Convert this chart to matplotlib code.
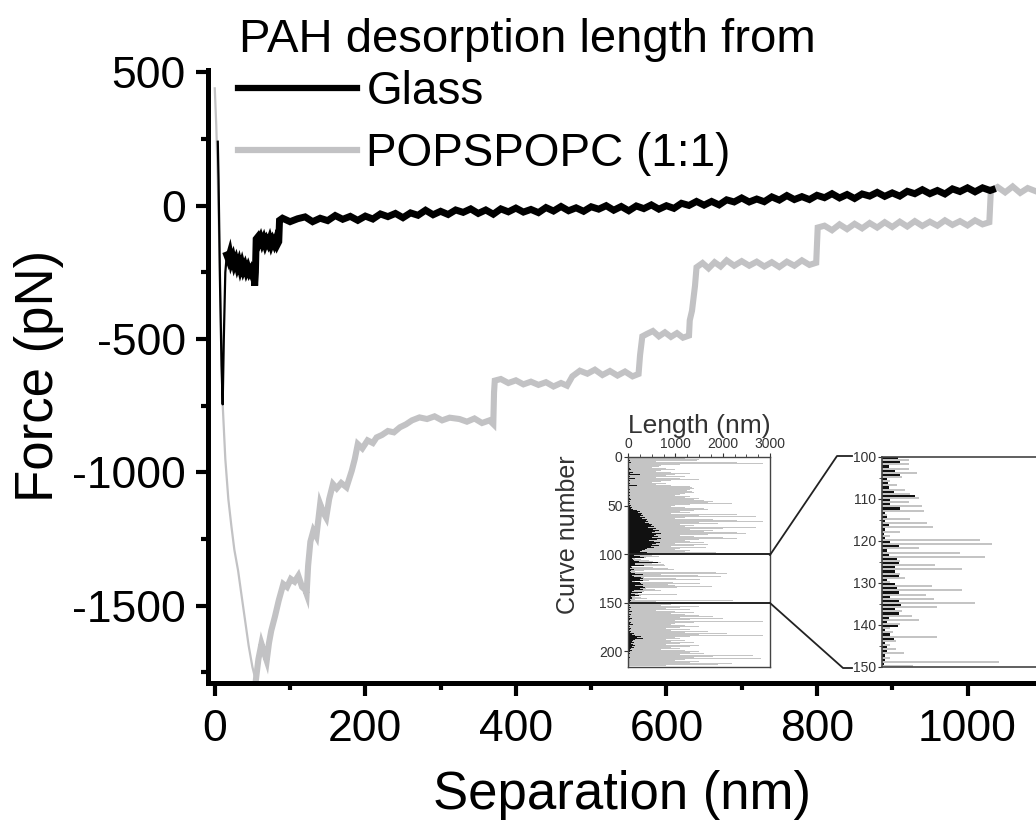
import matplotlib
matplotlib.use('Agg')
import matplotlib.pyplot as plt
from matplotlib.lines import Line2D
from matplotlib.ticker import MultipleLocator

plt.rcParams['font.family'] = ['Liberation Sans', 'DejaVu Sans']
plt.rcParams['axes.unicode_minus'] = False

# ---------------- main force curves ----------------
glass_sep = [4, 5, 7, 9, 10.5, 12, 14, 16, 18, 20, 22, 24, 26, 28, 30, 32, 34, 36, 38, 40, 42, 44, 46,
             48, 50, 52, 53, 54, 55, 57, 59, 61, 63, 65, 67, 69, 71, 73, 75, 77, 79, 81, 83, 85, 86,
             90, 100, 110, 120, 130, 140, 150, 160, 170, 180, 190, 200, 210, 220, 230, 240, 250, 260,
             270, 280, 290, 300, 310, 320, 330, 340, 350, 360, 370, 380, 390, 400, 410, 420, 430, 440,
             450, 460, 470, 480, 490, 500, 510, 520, 530, 540, 550, 560, 570, 580, 590, 600, 610, 620,
             630, 640, 650, 660, 670, 680, 690, 700, 710, 720, 730, 740, 750, 760, 770, 780, 790, 800,
             810, 820, 830, 840, 850, 860, 870, 880, 890, 900, 910, 920, 930, 940, 950, 960, 970, 980,
             990, 1000, 1010, 1020, 1030, 1033]
glass_force = [240, 100, -300, -600, -745, -500, -250, -185, -200, -180, -210, -195, -220, -205, -228,
               -212, -236, -218, -240, -226, -246, -232, -250, -240, -258, -245, -300, -250, -125, -118,
               -136, -122, -140, -126, -145, -130, -142, -126, -146, -131, -144, -128, -146, -135, -55,
               -47, -60, -49, -42, -60, -47, -56, -37, -51, -40, -55, -39, -50, -31, -41, -29, -45, -27,
               -36, -17, -34, -21, -33, -16, -25, -12, -29, -16, -32, -12, -23, -9, -24, -14, -26, -7,
               -20, -3, -19, -8, -21, -4, -13, 0, -17, -3, -19, -1, -11, 3, -13, 0, -10, 9,
               1, 16, 2, 16, 3, 22, 14, 29, 14, 25, 15, 33, 21, 38, 23, 34, 23, 39,
               30, 45, 29, 42, 27, 44, 36, 50, 35, 48, 36, 54, 45, 60, 45, 57, 44, 63,
               53, 67, 52, 67, 57, 60]

pops_sep = [0, 2, 4, 6, 8, 10.5, 14, 18, 22, 26, 31, 35, 40, 45, 50, 54.5, 58, 62, 66, 69, 72, 75, 80,
            85, 91, 96, 101, 106, 111, 116, 120, 122, 124, 127, 131, 135, 140, 144, 148, 152, 157, 162,
            168, 175, 182, 186, 190, 196, 203, 210, 215, 222, 230, 238, 246, 254, 262, 272, 282, 292,
            302, 312, 325, 335, 345, 355, 365, 370, 371, 372, 380, 390, 400, 410, 420, 430, 440, 450,
            460, 468, 475, 485, 495, 505, 515, 525, 535, 545, 555, 563, 565, 568, 574, 582, 590, 598,
            606, 614, 622, 630, 631, 634, 638, 640, 648, 656, 664, 672, 680, 690, 700, 710, 720, 730,
            740, 750, 760, 770, 780, 790, 799, 801, 810, 820, 830, 840, 850, 860, 870, 880, 890, 900,
            910, 920, 930, 940, 950, 960, 970, 980, 990, 1000, 1010, 1020, 1029, 1031, 1040, 1050,
            1060, 1070, 1080, 1090]
pops_force = [440, 300, 100, -150, -400, -745, -950, -1100, -1200, -1290, -1369, -1450, -1550, -1650,
              -1730, -1781, -1700, -1643, -1680, -1706, -1640, -1594, -1540, -1480, -1419, -1430, -1400,
              -1410, -1388, -1430, -1440, -1456, -1350, -1260, -1219, -1240, -1119, -1150, -1170, -1100,
              -1044, -1060, -1040, -1056, -994, -950, -894, -910, -880, -890, -869, -860, -845, -850,
              -831, -820, -805, -794, -800, -790, -805, -795, -800, -810, -798, -815, -805, -819, -700,
              -656, -650, -665, -655, -670, -660, -672, -662, -678, -665, -675, -640, -619, -630, -615,
              -635, -620, -637, -622, -640, -631, -560, -490, -481, -470, -490, -475, -492, -478, -495,
              -487, -430, -394, -300, -231, -215, -235, -212, -228, -205, -225, -208, -225, -210, -228,
              -212, -230, -210, -225, -205, -222, -214, -82, -75, -92, -70, -88, -68, -85, -65, -82,
              -62, -80, -60, -78, -58, -76, -60, -75, -55, -72, -58, -74, -55, -70, -62, 56, 70, 50,
              72, 48, 66, 55]

# ---------------- inset: desorption length per curve ----------------
curve_number = list(range(1, 216))
glass_length = [20, 30, 10, 40, 20, 60, 30, 20, 10, 30,
                20, 40, 60, 30, 20, 100, 40, 250, 30, 20,
                40, 30, 150, 20, 50, 30, 20, 40, 30, 180,
                20, 30, 10, 40, 30, 20, 50, 30, 20, 40,
                30, 20, 40, 60, 30, 50, 20, 40, 30, 60,
                40, 80, 60, 100, 150, 200, 250, 220, 300, 280,
                320, 260, 350, 300, 400, 380, 420, 350, 450, 500,
                480, 550, 420, 600, 520, 650, 580, 500, 700, 600,
                550, 640, 500, 700, 620, 450, 550, 680, 600, 500,
                720, 650, 480, 550, 400, 350, 300, 250, 400,
                297, 348, 127, 253, 348, 95, 108, 127, 222, 633,
                158, 158, 348, 63, 95, 51, 127, 63, 32, 63,
                158, 317, 95, 127, 285, 317, 253, 253, 317, 95,
                253, 285, 317, 158, 317, 367, 253, 317, 127, 95,
                297, 63, 158, 222, 63, 95, 95, 51, 63, 32, 32,
                30, 20, 50, 30, 60, 20, 40, 30, 80, 20,
                30, 60, 40, 20, 50, 30, 80, 40, 20, 30,
                60, 40, 100, 30, 50, 20, 70, 40, 30, 60,
                50, 120, 80, 150, 280, 200, 320, 150, 100, 80,
                120, 60, 100, 150, 80, 120, 60, 40, 100, 80,
                50, 30, 40, 20, 30, 20, 40, 30, 20, 30, 20, 30, 20, 10, 20]
popspopc_length = [900, 1200, 1500, 1450, 600, 2300, 2850, 1100, 700, 650,
                   500, 800, 1000, 700, 600, 900, 1300, 1000, 1400, 800,
                   1200, 600, 1100, 1500, 900, 700, 500, 800, 600, 900,
                   1300, 1350, 1400, 1300, 1250, 1350, 1400, 1200, 1100, 1000,
                   1300, 1200, 1500, 1400, 1600, 1800, 1700, 2200, 1300, 1000,
                   900, 1200, 1600, 1700, 1000, 1400, 1100, 1300, 900, 2300,
                   1500, 2700, 1200, 1000, 1800, 2300, 2850, 1500, 1900, 1100,
                   1400, 1200, 2700, 2000, 1300, 1800, 1600, 2300, 2500, 1700,
                   1100, 1400, 2000, 2300, 1500, 1200, 1300, 1600, 1000, 1700,
                   1200, 1400, 900, 1650, 1100, 1000, 1300, 1200, 1850,
                   506, 506, 506, 665, 380, 158, 285, 443, 538, 696,
                   506, 760, 791, 95, 538, 855, 968, 348, 158, 1867,
                   2089, 696, 1475, 1962, 348, 1013, 1519, 348, 443, 158,
                   950, 1519, 842, 994, 1772, 1044, 380, 570, 696, 348,
                   158, 209, 1044, 272, 158, 272, 411, 158, 2216, 589, 253,
                   1200, 900, 700, 1500, 1100, 800, 1300, 600, 1000, 1400,
                   900, 1200, 700, 1500, 1800, 1100, 2000, 1300, 1000, 2850,
                   1400, 1000, 900, 1200, 1500, 1100, 800, 1300, 900, 1700,
                   1200, 2100, 1500, 2850, 1300, 1000, 1100, 800, 1200, 900,
                   1400, 1100, 800, 1500, 1300, 900, 1100, 700, 1000, 1200,
                   1500, 1300, 1600, 1100, 2650, 1800, 1400, 2800, 1200, 1000, 1500, 1300, 2200, 1900, 800]

GRAY = '#c2c2c4'
W, H = 1036, 824

fig = plt.figure(figsize=(W / 100, H / 100), dpi=100)
ax = fig.add_axes([208 / W, 141 / H, 828 / W, 613.3 / H])
# steep approach parts are thin, noisy plateaus appear as thick bands
ax.plot(pops_sep[:16], pops_force[:16], color=GRAY, lw=1.6)
l_pops, = ax.plot(pops_sep[15:], pops_force[15:], color=GRAY, lw=4.4, label='POPSPOPC (1:1)',
                  solid_joinstyle='miter')
ax.plot(glass_sep[:8], glass_force[:8], color='black', lw=1.6)
l_glass, = ax.plot(glass_sep[7:], glass_force[7:], color='black', lw=5.0, label='Glass',
                   solid_joinstyle='miter')
ax.set_xlim(-9, 1091)
ax.set_ylim(-1790, 510)
ax.xaxis.set_major_locator(MultipleLocator(200))
ax.xaxis.set_minor_locator(MultipleLocator(100))
ax.yaxis.set_major_locator(MultipleLocator(500))
ax.yaxis.set_minor_locator(MultipleLocator(250))
for s in ['top', 'right']:
    ax.spines[s].set_visible(False)
for s in ['left', 'bottom']:
    ax.spines[s].set_linewidth(3.6)
ax.tick_params(which='major', length=9, width=3, direction='out', labelsize=32, pad=7)
ax.tick_params(axis='x', which='major', pad=10)
ax.tick_params(which='minor', length=5, width=3, direction='out')
ax.set_xlabel('Separation (nm)', fontsize=38, labelpad=14)
ax.set_ylabel('Force (pN)', fontsize=38, labelpad=6)

fig.text(239 / W, 1 - 40 / H, 'PAH desorption length from', fontsize=34, ha='left', va='center')
leg = fig.legend(handles=[l_glass, l_pops],
                 loc='upper left', bbox_to_anchor=(238 / W, 1 - 70 / H), frameon=False,
                 fontsize=33, borderpad=0,
                 handlelength=2.6, handletextpad=0.2, labelspacing=0.39, borderaxespad=0)
for ln in leg.get_lines():
    ln.set_linewidth(4.5)

# ---------------- inset 1 ----------------
TXT = '#333333'
ax1 = fig.add_axes([628 / W, (H - 667) / H, 142 / W, 210 / H])
ax1.barh([c - 0.5 for c in curve_number], popspopc_length, height=1.0, color='#c4c4c4', linewidth=0)
ax1.barh([c - 0.5 for c in curve_number], glass_length, height=1.0, color='#111111', linewidth=0)
ax1.set_xlim(0, 3000)
ax1.set_ylim(216, 0)
ax1.xaxis.tick_top()
ax1.xaxis.set_label_position('top')
ax1.set_xticks([0, 1000, 2000, 3000])
ax1.xaxis.set_minor_locator(MultipleLocator(250))
ax1.set_yticks([0, 50, 100, 150, 200])
ax1.tick_params(which='major', length=3, width=0.8, labelsize=10, pad=1, colors=TXT)
ax1.tick_params(which='minor', length=2, width=0.6, colors=TXT)
for s in ax1.spines.values():
    s.set_linewidth(1.0)
    s.set_color('#444444')
ax1.set_xlabel('Length (nm)', fontsize=19, color=TXT, labelpad=3)
ax1.set_ylabel('Curve number', fontsize=18, color=TXT)
ax1.yaxis.set_label_coords(-0.34, 0.63)
ax1.axhline(100, color='#222222', lw=1.4)
ax1.axhline(150, color='#222222', lw=1.4)

# ---------------- inset 2 (zoom of curves 100-150) ----------------
ax2 = fig.add_axes([882 / W, (H - 667) / H, 158 / W, 210 / H])
ax2.barh([c + 0.75 for c in curve_number], popspopc_length, height=0.5, color='#c4c4c4', linewidth=0)
ax2.barh([c + 0.25 for c in curve_number], glass_length, height=0.5, color='#111111', linewidth=0)
ax2.set_xlim(0, 3000)
ax2.set_ylim(150, 100)
ax2.set_xticks([])
ax2.set_yticks([100, 110, 120, 130, 140, 150])
ax2.yaxis.set_minor_locator(MultipleLocator(5))
ax2.tick_params(which='major', length=3, width=0.8, labelsize=10, pad=1, colors=TXT)
ax2.tick_params(which='minor', length=2, width=0.6, colors=TXT)
for s in ax2.spines.values():
    s.set_linewidth(1.2)
    s.set_color('#444444')

# connector lines between the two insets
for pts in ([(770, 555), (837, 456), (852, 456)], [(770, 603), (843, 668), (852, 668)]):
    xs = [p[0] / W for p in pts]
    ys = [1 - p[1] / H for p in pts]
    fig.add_artist(Line2D(xs, ys, transform=fig.transFigure, color='#222222', lw=1.3))

fig.savefig('out.png', dpi=100)
